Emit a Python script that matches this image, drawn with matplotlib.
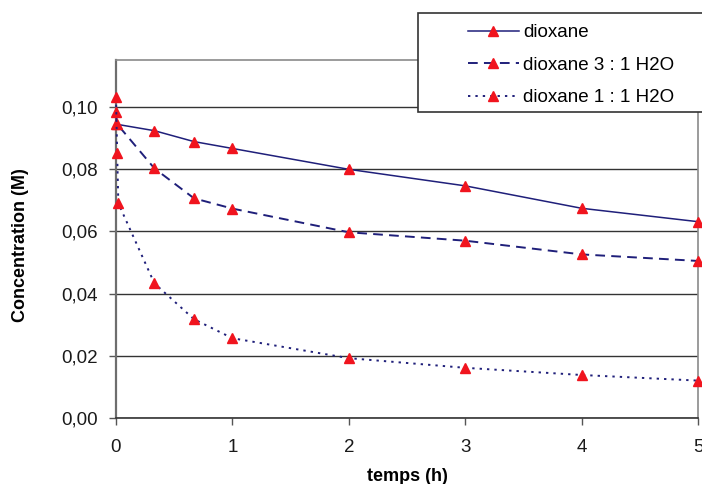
import matplotlib
matplotlib.use("Agg")
import matplotlib.pyplot as plt
from matplotlib.patches import Rectangle

plt.rcParams['font.family'] = ['Liberation Sans', 'DejaVu Sans']

# ---- data ----
t_dioxane = [0, 0.33, 0.67, 1, 2, 3, 4, 5]
c_dioxane = [0.0944, 0.0923, 0.0888, 0.0866, 0.0799, 0.0746, 0.0674, 0.0631]

t_31 = [0, 0.01, 0.33, 0.67, 1, 2, 3, 4, 5]
c_31 = [0.0984, 0.0944, 0.0802, 0.0706, 0.0673, 0.0597, 0.0570, 0.0526, 0.0505]

t_11 = [0, 0.01, 0.02, 0.33, 0.67, 1, 2, 3, 4, 5]
c_11 = [0.1030, 0.0850, 0.0690, 0.0433, 0.0318, 0.0257, 0.0193, 0.0162, 0.0139, 0.0121]

labels = ['dioxane', 'dioxane 3 : 1 H2O', 'dioxane 1 : 1 H2O']
xticks = [0, 1, 2, 3, 4, 5]
yticks = [0.00, 0.02, 0.04, 0.06, 0.08, 0.10]
ytick_labels = ['0,00', '0,02', '0,04', '0,06', '0,08', '0,10']
xlabel = 'temps (h)'
ylabel = 'Concentration (M)'

W, H = 702, 484
fig = plt.figure(figsize=(W / 100, H / 100), dpi=100)
ax_h = 418.3 - 60
ax_w = 698 - 116
ax = fig.add_axes([116 / W, 1 - 418.3 / H, ax_w / W, ax_h / H])

line_color = '#1f1f7a'
mk = dict(marker='^', markersize=7.5, markerfacecolor='#f0141e', markeredgecolor='#f0141e')

ax.plot(t_dioxane, c_dioxane, color=line_color, lw=1.1, label=labels[0], clip_on=False, zorder=3, **mk)
ax.plot(t_31, c_31, color=line_color, lw=1.4, dashes=(5, 3.2), label=labels[1], clip_on=False, zorder=3, **mk)
ax.plot(t_11, c_11, color=line_color, lw=1.4, dashes=(1.2, 2.6), label=labels[2], clip_on=False, zorder=3, **mk)

ax.set_xlim(0, 5)
ax.set_ylim(0, ax_h / 3116)
ax.set_xticks(xticks)
ax.set_xticklabels([str(v) for v in xticks])
ax.set_yticks(yticks)
ax.set_yticklabels(ytick_labels)
ax.tick_params(axis='both', direction='out', length=5, width=1, color='#555555',
               labelsize=13.5, labelcolor='#1a1a1a')
ax.tick_params(axis='y', pad=8)
ax.tick_params(axis='x', pad=10)

ax.yaxis.grid(True, color='#333333', lw=1.0)
ax.set_axisbelow(True)
for s in ['top', 'right']:
    ax.spines[s].set_color('#8a8a8a')
    ax.spines[s].set_linewidth(1.2)
ax.spines['left'].set_color('#6e6e6e')
ax.spines['left'].set_linewidth(1.6)
ax.spines['bottom'].set_color('#333333')
ax.spines['bottom'].set_linewidth(1.2)

ax.set_xlabel(xlabel, fontsize=13, fontweight='bold')
ax.set_ylabel(ylabel, fontsize=13, fontweight='bold')
ax.xaxis.label.set_va('center')
ax.yaxis.label.set_va('center')
ax.xaxis.set_label_coords((407 - 116) / ax_w, -(476.5 - 418.3) / ax_h)
ax.yaxis.set_label_coords((21 - 116) / ax_w, (418.3 - 245) / ax_h)

# legend frame box (extends past right edge)
box = Rectangle((418 / W, 1 - 112 / H), (W - 418 + 10) / W, (112 - 13) / H,
                transform=fig.transFigure, facecolor='white', edgecolor='#333333',
                lw=1.2, zorder=4)
fig.patches.append(box)

handles, labs = ax.get_legend_handles_labels()
leg = fig.legend(handles, labs, loc='upper left', bbox_to_anchor=(455 / W, 1 - 11 / H),
                 frameon=False, fontsize=13.5, handlelength=2.7, handletextpad=0.25,
                 labelspacing=0.82, numpoints=1, borderpad=0.2)
leg.set_zorder(6)

fig.savefig('out.png', dpi=100)
